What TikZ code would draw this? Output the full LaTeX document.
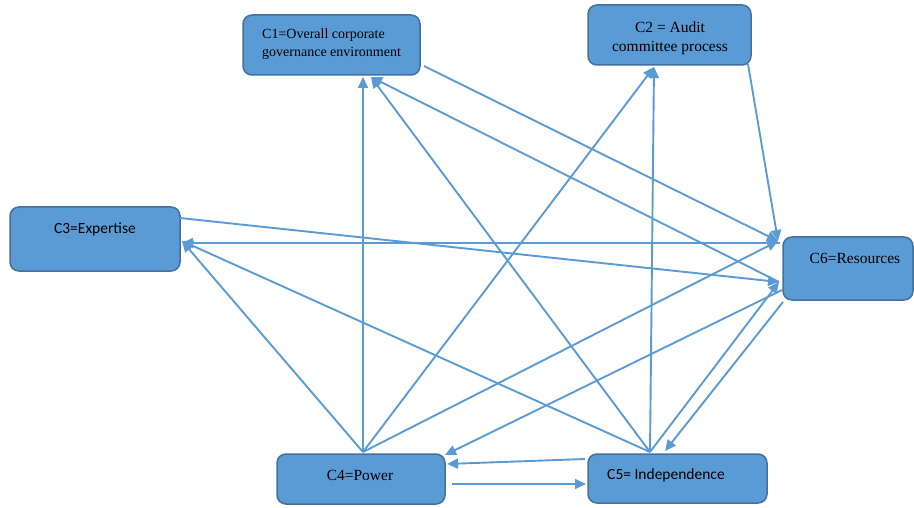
\documentclass[tikz,border=0pt]{standalone}
\usepackage{fontspec}
\setmainfont{Liberation Serif}
\newfontfamily\calib{Carlito}
\usetikzlibrary{arrows.meta}
\definecolor{boxfill}{HTML}{5B9BD5}
\definecolor{boxline}{HTML}{41719C}
\definecolor{arrcol}{HTML}{5B9BD5}
\begin{document}
\begin{tikzpicture}[x=1pt,y=-1pt,
  box/.style={draw=boxline,line width=1.5pt,fill=boxfill,rounded corners=9pt},
  lbl/.style={inner sep=0pt,font=\fontsize{15.5}{18}\selectfont,text=black},
  arr/.style={draw=arrcol,line width=1.9pt,-{Triangle[length=11pt,width=10pt]}}]
\useasboundingbox (0,0) rectangle (914,508);
% boxes
\draw[box] (243,15) rectangle (420,75);
\draw[box] (588,5) rectangle (751,65);
\draw[box] (10,207) rectangle (180,271);
\draw[box] (783,237) rectangle (913,300);
\draw[box] (277,454) rectangle (445,504);
\draw[box] (588,454) rectangle (767,503);
% labels
\node[lbl,anchor=west,font=\fontsize{14}{17}\selectfont] (t1a) at (262,35) {C1=Overall corporate};
\node[lbl,anchor=west,font=\fontsize{14}{17}\selectfont] (t1b) at (262,53) {governance environment};
\node[lbl] (t2a) at (670,27) {C2 = Audit};
\node[lbl] (t2b) at (670,48) {committee process};
\node[lbl,font=\calib\fontsize{15.5}{18}\selectfont] (t3) at (95,229) {C3=Expertise};
\node[lbl] (t6) at (855,258) {C6=Resources};
\node[lbl] (t4) at (360,475) {C4=Power};
\node[lbl,font=\calib\fontsize{15.5}{18}\selectfont] (t5) at (666,475) {C5= Independence};
% anchor points
\coordinate (c4t) at (363,452);
\coordinate (c5t) at (650,452);
\coordinate (c1b) at (363,77);
\coordinate (c1b2) at (371,77);
\coordinate (c1r) at (424,66);
\coordinate (c2b) at (654,67);
\coordinate (c2r) at (748,64);
\coordinate (c3r) at (182,241);
\coordinate (c3ro) at (180,218);
\coordinate (c3rh) at (182,243);
\coordinate (c6u) at (778,241);
\coordinate (c6uh) at (780,243);
\coordinate (c6l) at (779,282);
\coordinate (c6lo) at (782,290);
\coordinate (c6lb) at (783,302);
\coordinate (c4r) at (445,455);
\coordinate (c4rm) at (447,464);
\coordinate (c4rl) at (452,484);
\coordinate (c5l) at (585,459);
\coordinate (c5ll) at (586,484);
\coordinate (c5tr) at (665,451);
% connectors
\draw[arr] (c4t) -- (c1b);
\draw[arr] (c4t) -- (c2b);
\draw[arr] (c4t) -- (c3r);
\draw[arr] (c4t) -- (c6u);
\draw[arr] (c5t) -- (c1b2);
\draw[arr] (c5t) -- (c2b);
\draw[arr] (c5t) -- (c3r);
\draw[arr] (c5t) -- (c6l);
\draw[arr] (c6lb) -- (c5tr);
\draw[arr] (c6lo) -- (c4r);
\draw[arr] (c5l) -- (c4rm);
\draw[arr] (c4rl) -- (c5ll);
\draw[arr] (c6uh) -- (c3rh);
\draw[arr] (c3ro) -- (c6l);
\draw[arr] (c1r) -- (c6u);
\draw[arr] (c6l) -- (c1b2);
\draw[arr] (c2r) -- (c6u);
\end{tikzpicture}
\end{document}
